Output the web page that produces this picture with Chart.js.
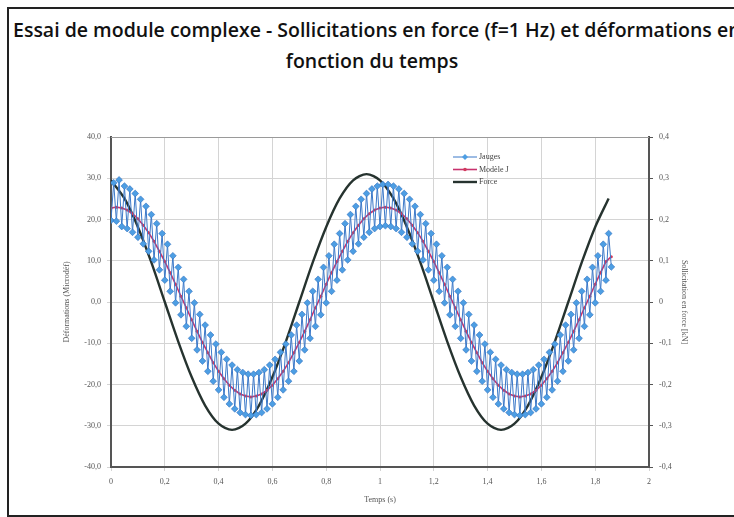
<!DOCTYPE html>
<html lang="fr">
<head>
<meta charset="utf-8">
<script src="https://cdn.jsdelivr.net/npm/chart.js@4.4.0/dist/chart.umd.min.js"></script>
<style>
  html, body { margin: 0; padding: 0; background: #fff; overflow: hidden; }
  #frame { position: absolute; left: 7px; top: 7px; width: 740px; height: 506px;
           border-left: 2px solid #222; border-top: 2px solid #222; border-bottom: 2px solid #222; }
  .titre { position: absolute; font-family: "Open Sans", sans-serif; font-weight: 600;
           font-size: 19.5px; color: #111; white-space: nowrap; }
  #t1 { left: 13px; top: 16px; }
  #t2 { left: 0; width: 744px; top: 47px; text-align: center; }
  #wrap { position: absolute; left: 0; top: 0; width: 734px; height: 517px; }
</style>
</head>
<body>
<div id="frame"></div>
<div class="titre" id="t1">Essai de module complexe - Sollicitations en force (f=1 Hz) et déformations en</div>
<div class="titre" id="t2">fonction du temps</div>
<div id="wrap"><canvas id="graphe" width="734" height="517"></canvas></div>
<script>
// pas d'échantillonnage (s)
const dtJauges = 0.01;
const dtModele = 0.02;
const dtForce = 0.05;

// déformations mesurées (microdéf), une valeur tous les 0,01 s
const jauges = [
  19.8, 28.9, 19.6, 29.6, 18.3, 28.1, 17.8, 27.4, 16.9, 26.3, 15.7, 24.9, 14.1, 23.2, 12.3, 21.2, 10.2, 19.0, 7.8, 16.6,
  5.3, 14.0, 2.6, 11.2, -0.2, 8.4, -3.1, 5.5, -5.9, 2.6, -8.8, -0.2, -11.6, -3.0, -14.3, -5.6, -16.8, -8.0, -19.2, -10.2,
  -21.3, -12.2, -23.1, -13.9, -24.7, -15.3, -25.9, -16.4, -26.8, -17.1, -27.3, -17.5, -27.5, -17.5, -27.3, -17.1, -26.8, -16.4, -25.9, -15.3,
  -24.7, -13.9, -23.1, -12.2, -21.3, -10.2, -19.2, -8.0, -16.8, -5.6, -14.3, -3.0, -11.6, -0.2, -8.8, 2.6, -5.9, 5.5, -3.1, 8.4,
  -0.2, 11.2, 2.6, 14.0, 5.3, 16.6, 7.8, 19.0, 10.2, 21.2, 12.3, 23.2, 14.1, 24.9, 15.7, 26.3, 16.9, 27.4, 17.8, 28.1,
  18.3, 28.5, 18.5, 28.5, 18.3, 28.1, 17.8, 27.4, 16.9, 26.3, 15.7, 24.9, 14.1, 23.2, 12.3, 21.2, 10.2, 19.0, 7.8, 16.6,
  5.3, 14.0, 2.6, 11.2, -0.2, 8.4, -3.1, 5.5, -5.9, 2.6, -8.8, -0.2, -11.6, -3.0, -14.3, -5.6, -16.8, -8.0, -19.2, -10.2,
  -21.3, -12.2, -23.1, -13.9, -24.7, -15.3, -25.9, -16.4, -26.8, -17.1, -27.3, -17.5, -27.5, -17.5, -27.3, -17.1, -26.8, -16.4, -25.9, -15.3,
  -24.7, -13.9, -23.1, -12.2, -21.3, -10.2, -19.2, -8.0, -16.8, -5.6, -14.3, -3.0, -11.6, -0.2, -8.8, 2.6, -5.9, 5.5, -3.1, 8.4,
  -0.2, 11.2, 2.6, 14.0, 5.3, 16.6, 8.5
];

// modèle (microdéf), une valeur tous les 0,02 s
const modele = [
  22.8, 23.0, 22.8, 22.3, 21.4, 20.2, 18.6, 16.8, 14.7, 12.3,
  9.8, 7.1, 4.3, 1.4, -1.4, -4.3, -7.1, -9.8, -12.3, -14.7,
  -16.8, -18.6, -20.2, -21.4, -22.3, -22.8, -23.0, -22.8, -22.3, -21.4,
  -20.2, -18.6, -16.8, -14.7, -12.3, -9.8, -7.1, -4.3, -1.4, 1.4,
  4.3, 7.1, 9.8, 12.3, 14.7, 16.8, 18.6, 20.2, 21.4, 22.3,
  22.8, 23.0, 22.8, 22.3, 21.4, 20.2, 18.6, 16.8, 14.7, 12.3,
  9.8, 7.1, 4.3, 1.4, -1.4, -4.3, -7.1, -9.8, -12.3, -14.7,
  -16.8, -18.6, -20.2, -21.4, -22.3, -22.8, -23.0, -22.8, -22.3, -21.4,
  -20.2, -18.6, -16.8, -14.7, -12.3, -9.8, -7.1, -4.3, -1.4, 1.4,
  4.3, 7.1, 9.8, 11.0
];

// force appliquée (kN), une valeur tous les 0,05 s
const force = [
  0.295, 0.251, 0.182, 0.096, 0.0, -0.096, -0.182, -0.251, -0.295, -0.31,
  -0.295, -0.251, -0.182, -0.096, 0.0, 0.096, 0.182, 0.251, 0.295, 0.31,
  0.295, 0.251, 0.182, 0.096, 0.0, -0.096, -0.182, -0.251, -0.295, -0.31,
  -0.295, -0.251, -0.182, -0.096, 0.0, 0.096, 0.182, 0.251
];

const seriesNames = ['Jauges', 'Modèle J', 'Force'];
const xTicks = [0, 0.2, 0.4, 0.6, 0.8, 1, 1.2, 1.4, 1.6, 1.8, 2];

function versPoints(valeurs, dt) {
  return valeurs.map(function(v, i) {
    return { x: Math.round(i * dt * 1000) / 1000, y: v };
  });
}

function virgule(v, dec) {
  var s = dec != null ? v.toFixed(dec) : String(Math.round(v * 1000) / 1000);
  return s.replace('.', ',');
}

// légende dessinée dans la zone de tracé
const legendeInterne = {
  id: 'legendeInterne',
  afterDatasetsDraw: function(chart) {
    const ctx = chart.ctx;
    const rows = [157, 169.5, 182];
    ctx.save();
    chart.data.datasets.forEach(function(ds, i) {
      const y = rows[i];
      ctx.strokeStyle = ds.borderColor;
      ctx.lineWidth = ds.borderWidth;
      ctx.beginPath();
      ctx.moveTo(453, y);
      ctx.lineTo(477, y);
      ctx.stroke();
      if (ds.pointRadius > 0) {
        ctx.fillStyle = ds.pointBackgroundColor;
        ctx.beginPath();
        if (ds.pointStyle === 'rectRot') {
          ctx.moveTo(465, y - 3); ctx.lineTo(468, y); ctx.lineTo(465, y + 3); ctx.lineTo(462, y);
        } else {
          ctx.arc(465, y, 1.8, 0, Math.PI * 2);
        }
        ctx.closePath();
        ctx.fill();
      }
      ctx.fillStyle = '#444';
      ctx.font = '8px "Liberation Serif", serif';
      ctx.textBaseline = 'middle';
      ctx.fillText(ds.label, 479, y);
    });
    ctx.restore();
  }
};

const cadre = {
  id: 'cadre',
  beforeDatasetsDraw: function(chart) {
    const a = chart.chartArea;
    const ctx = chart.ctx;
    ctx.save();
    ctx.strokeStyle = '#9a9a9a';
    ctx.lineWidth = 1;
    ctx.beginPath();
    ctx.moveTo(a.left, a.top + 0.5);
    ctx.lineTo(a.right, a.top + 0.5);
    ctx.stroke();
    ctx.restore();
  }
};

const tickFont = { family: '"Liberation Serif", serif', size: 8 };

new Chart(document.getElementById('graphe'), {
  type: 'line',
  data: {
    datasets: [{
      label: seriesNames[0],
      data: versPoints(jauges, dtJauges),
      yAxisID: 'y',
      borderColor: '#3b78c8',
      borderWidth: 1,
      pointStyle: 'rectRot',
      pointRadius: 3.4,
      pointBackgroundColor: '#4d9ee3',
      pointBorderColor: '#2f6fbf',
      pointBorderWidth: 0.6,
      tension: 0
    }, {
      label: seriesNames[1],
      data: versPoints(modele, dtModele),
      yAxisID: 'y',
      borderColor: '#c8326e',
      borderWidth: 1.6,
      pointStyle: 'circle',
      pointRadius: 1.5,
      pointBackgroundColor: '#d23a5c',
      pointBorderWidth: 0,
      tension: 0
    }, {
      label: seriesNames[2],
      data: versPoints(force, dtForce),
      yAxisID: 'y1',
      borderColor: '#26332f',
      borderWidth: 2.4,
      pointRadius: 0,
      tension: 0.3
    }]
  },
  options: {
    responsive: false,
    animation: false,
    layout: { padding: { left: 60, right: 43, top: 137, bottom: 8 } },
    plugins: {
      legend: { display: false },
      tooltip: { enabled: false },
      title: { display: false }
    },
    scales: {
      x: {
        type: 'linear',
        min: 0, max: 2,
        afterBuildTicks: function(s) { s.ticks = xTicks.map(function(v) { return { value: v }; }); },
        afterFit: function(s) { s.height = 42; },
        grid: { color: '#d4d4d4', drawTicks: true, tickLength: 4 },
        border: { color: '#555', width: 2 },
        ticks: { color: '#555', font: tickFont, padding: 6, maxRotation: 0,
                 callback: function(v) { return virgule(v); } },
        title: { display: true, text: 'Temps (s)', color: '#555', font: tickFont, padding: { top: 4 } }
      },
      y: {
        position: 'left',
        min: -40, max: 40,
        afterBuildTicks: function(s) {
          s.ticks = [-40, -30, -20, -10, 0, 10, 20, 30, 40].map(function(v) { return { value: v }; });
        },
        afterFit: function(s) { s.width = 51; },
        grid: { color: '#d4d4d4', tickLength: 4 },
        border: { color: '#555', width: 2 },
        ticks: { color: '#555', font: tickFont, padding: 6,
                 callback: function(v) { return virgule(v, 1); } },
        title: { display: true, text: 'Déformations (Microdéf)', color: '#555', font: tickFont, padding: 2 }
      },
      y1: {
        position: 'right',
        min: -0.4, max: 0.4,
        afterBuildTicks: function(s) {
          s.ticks = [-0.4, -0.3, -0.2, -0.1, 0, 0.1, 0.2, 0.3, 0.4].map(function(v) { return { value: v }; });
        },
        afterFit: function(s) { s.width = 42; },
        grid: { drawOnChartArea: false, tickLength: 4, color: '#555' },
        border: { color: '#555', width: 2 },
        ticks: { color: '#555', font: tickFont, padding: 6,
                 callback: function(v) { return virgule(v); } },
        title: { display: true, text: 'Sollicitation en force [kN]', color: '#555', font: tickFont, padding: 2 }
      }
    }
  },
  plugins: [cadre, legendeInterne]
});
</script>
</body>
</html>
